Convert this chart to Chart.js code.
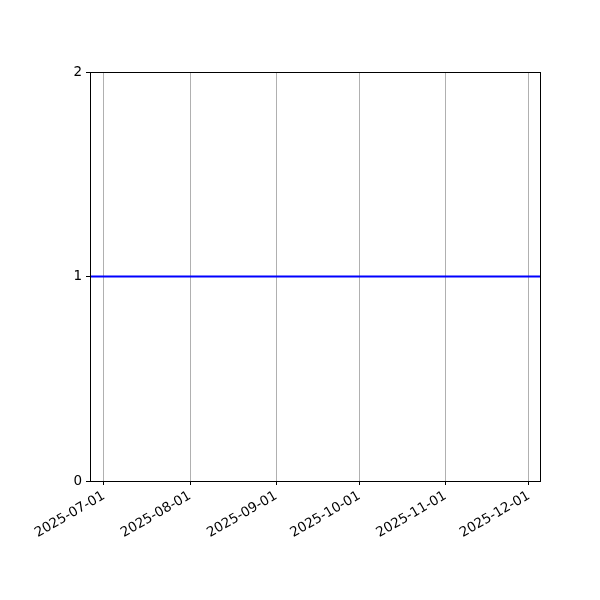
<!DOCTYPE html>
<html>
<head>
<meta charset="utf-8">
<script src="https://cdn.jsdelivr.net/npm/chart.js@4"></script>
<style>
  html, body { margin: 0; padding: 0; background: #fff; }
  #wrap { width: 600px; height: 600px; }
</style>
</head>
<body>
<div id="wrap"><canvas id="chart" width="600" height="600"></canvas></div>
<script>
// data
const dates = ['2025-06-26', '2025-12-05'];
const values = [1, 1];
const tickDates = ['2025-07-01', '2025-08-01', '2025-09-01', '2025-10-01', '2025-11-01', '2025-12-01'];
const yTicks = [0, 1, 2];

function ts(d) {
    return Date.parse(d + 'T00:00:00Z');
}

// frame round the plot area (matplotlib spines)
const framePlugin = {
    id: 'frame',
    afterDraw(chart) {
        const a = chart.chartArea;
        const ctx = chart.ctx;
        ctx.save();
        ctx.strokeStyle = '#000';
        ctx.lineWidth = 1;
        ctx.strokeRect(a.left + 0.5, a.top + 0.5, a.right - a.left, a.bottom - a.top);
        ctx.restore();
    }
};

Chart.defaults.font.family = '"DejaVu Sans", sans-serif';
Chart.defaults.font.size = 13.5;
Chart.defaults.color = '#000';

new Chart(document.getElementById('chart').getContext('2d'), {
    type: 'line',
    data: {
        datasets: [{
            data: dates.map((d, i) => ({ x: ts(d), y: values[i] })),
            borderColor: '#0000ff',
            borderWidth: 2,
            pointRadius: 0,
            fill: false
        }]
    },
    options: {
        responsive: false,
        animation: false,
        layout: { padding: { left: 0, top: 72, right: 60, bottom: 0 } },
        plugins: { legend: { display: false }, tooltip: { enabled: false } },
        scales: {
            x: {
                type: 'linear',
                min: ts(dates[0]),
                max: ts(dates[dates.length - 1]),
                afterBuildTicks: axis => {
                    axis.ticks = tickDates.map(d => ({ value: ts(d) }));
                },
                afterFit: axis => { axis.height = 119; },
                ticks: {
                    minRotation: 30,
                    maxRotation: 30,
                    autoSkip: false,
                    padding: 3,
                    callback: v => new Date(v).toISOString().split('T')[0]
                },
                grid: {
                    color: '#b0b0b0',
                    lineWidth: 1,
                    tickColor: '#000',
                    tickLength: 4
                },
                border: { color: '#000', width: 1 }
            },
            y: {
                min: 0,
                max: 2,
                afterBuildTicks: axis => {
                    axis.ticks = yTicks.map(v => ({ value: v }));
                },
                afterFit: axis => { axis.width = 90; },
                ticks: { padding: 4 },
                grid: {
                    drawOnChartArea: false,
                    tickColor: '#000',
                    tickLength: 4
                },
                border: { color: '#000', width: 1 }
            }
        }
    },
    plugins: [framePlugin]
});
</script>
</body>
</html>
